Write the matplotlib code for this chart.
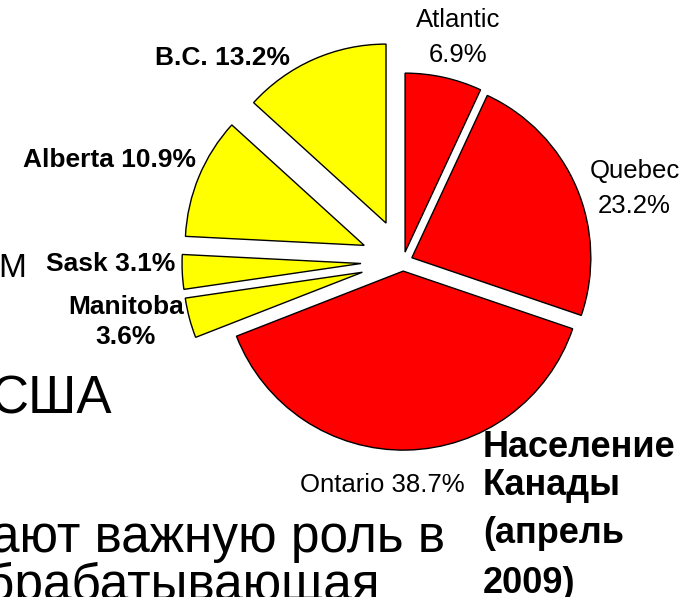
import matplotlib
matplotlib.use("Agg")
import matplotlib.pyplot as plt

plt.rcParams['font.family'] = ['Liberation Sans', 'DejaVu Sans']

# population share by region, clockwise from the top
regions = ["Atlantic", "Quebec", "Ontario", "Manitoba", "Sask", "Alberta", "B.C."]
shares = [6.9, 23.2, 38.7, 3.6, 3.1, 10.9, 13.2]
colors = ["#ff0000", "#ff0000", "#ff0000", "#ffff00", "#ffff00", "#ffff00", "#ffff00"]
explode = [9.6, 9.6, 9.6, 42, 42, 42, 42]

# label lines: text, x, baseline y, alignment, weight
labels = [
    ("Atlantic", 458, 27, 'center', 'normal'),
    ("6.9%", 458, 62, 'center', 'normal'),
    ("Quebec", 635, 178, 'center', 'normal'),
    ("23.2%", 634, 213, 'center', 'normal'),
    ("Ontario 38.7%", 382, 492, 'center', 'normal'),
    ("Manitoba", 126, 314, 'center', 'bold'),
    ("3.6%", 126, 344, 'center', 'bold'),
    ("Sask 3.1%", 175, 271, 'right', 'bold'),
    ("Alberta 10.9%", 196, 167, 'right', 'bold'),
    ("B.C. 13.2%", 290, 65, 'right', 'bold'),
]

title_lines = ["Население", "Канады", "(апрель", "2009)"]
title_y = [457, 495, 543, 593]

# slide text partly hidden behind the chart
slide_text = [
    ("М", 26, 277, 24),
    ("США", 112, 413, 38),
    ("ают важную роль в", 445, 552, 37),
    ("брабатывающая", 380, 600, 37),
]

fig = plt.figure(figsize=(6.85, 5.97), dpi=100)
ax = fig.add_axes([0, 0, 1, 1])

for txt, x, y, fs in slide_text:
    ax.text(x, y, txt, fontsize=fs, ha='right', va='baseline', color='black')

ax.pie(shares, colors=colors, explode=explode, radius=179, center=(403, 261.5),
       startangle=-90, counterclock=True,
       wedgeprops=dict(edgecolor='black', linewidth=1.0))

for txt, x, y, ha, w in labels:
    fs = 19 if w == 'bold' else 18.5
    ax.text(x, y, txt, fontsize=fs, ha=ha, va='baseline', fontweight=w)

for txt, y in zip(title_lines, title_y):
    ax.text(483, y, txt, fontsize=26, ha='left', va='baseline', fontweight='bold')

ax.set_xlim(0, 685)
ax.set_ylim(597, 0)
ax.set_axis_off()

fig.savefig("out.png", dpi=100)
